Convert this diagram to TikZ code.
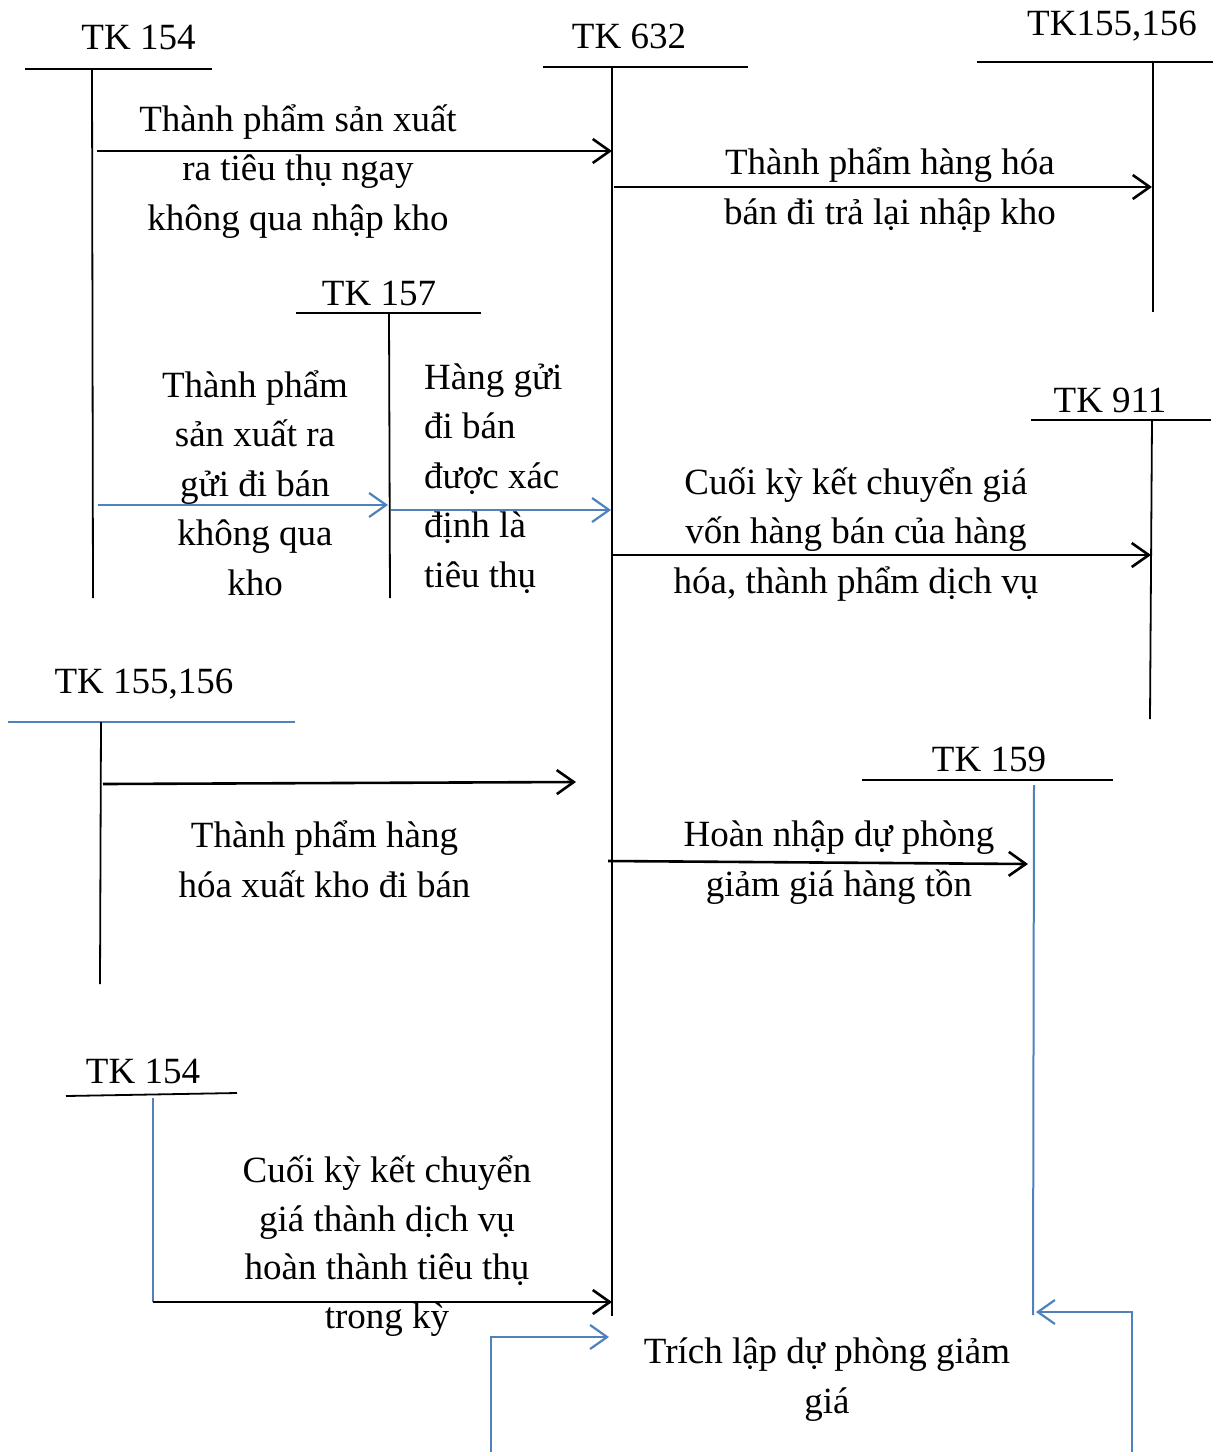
\documentclass[tikz,border=0pt]{standalone}
\usepackage{fontspec}
\setmainfont{Liberation Serif}
\usetikzlibrary{arrows.meta}
\definecolor{accblue}{RGB}{79,129,189}
\begin{document}
% Multi-line labels are placed by the baseline of their last line.
\begin{tikzpicture}[x=1pt,y=-1pt,
  lbl/.style={font=\fontsize{37}{49.5}\selectfont, inner sep=0pt, anchor=base},
  txt/.style={lbl, align=center},
  tline/.style={line width=1.8pt, black},
  bline/.style={line width=2pt, accblue},
  flow/.style={line width=2.6pt, black, -{Straight Barb[length=17pt,width=24pt]}},
  bflow/.style={line width=2.2pt, accblue, -{Straight Barb[length=17pt,width=24pt]}},
]
\useasboundingbox (0,0) rectangle (1221,1452);

% ---- T-accounts: title, horizontal bar, vertical stem ----
% TK 154 (top left)
\node[lbl] (t154a) at (138.5,49) {TK 154};
\coordinate (h154aL) at (25,69);  \coordinate (h154aR) at (212,69);
\coordinate (v154aT) at (92,69);  \coordinate (v154aB) at (93,598);
\draw[tline] (h154aL) -- (h154aR);
\draw[tline] (v154aT) -- (v154aB);

% TK 632 (central account)
\node[lbl] (t632) at (629,48) {TK 632};
\coordinate (h632L) at (543,67);  \coordinate (h632R) at (748,67);
\coordinate (v632T) at (612,67);  \coordinate (v632B) at (612,1316);
\draw[tline] (h632L) -- (h632R);
\draw[tline] (v632T) -- (v632B);

% TK155,156 (top right)
\node[lbl] (t155a) at (1112,35) {TK155,156};
\coordinate (h155aL) at (977,62); \coordinate (h155aR) at (1213,62);
\coordinate (v155aT) at (1153,62); \coordinate (v155aB) at (1153,312);
\draw[tline] (h155aL) -- (h155aR);
\draw[tline] (v155aT) -- (v155aB);

% TK 157
\node[lbl] (t157) at (379,305) {TK 157};
\coordinate (h157L) at (296,313); \coordinate (h157R) at (481,313);
\coordinate (v157T) at (389,313); \coordinate (v157B) at (390,598);
\draw[tline] (h157L) -- (h157R);
\draw[tline] (v157T) -- (v157B);

% TK 911
\node[lbl] (t911) at (1110,412) {TK 911};
\coordinate (h911L) at (1031,420); \coordinate (h911R) at (1211,420);
\coordinate (v911T) at (1152,420); \coordinate (v911B) at (1150,719);
\draw[tline] (h911L) -- (h911R);
\draw[tline] (v911T) -- (v911B);

% TK 155,156 (middle left)
\node[lbl] (t155b) at (144,693) {TK 155,156};
\coordinate (h155bL) at (8,722);  \coordinate (h155bR) at (295,722);
\coordinate (v155bT) at (101,722); \coordinate (v155bB) at (100,984);
\draw[bline] (h155bL) -- (h155bR);
\draw[tline] (v155bT) -- (v155bB);

% TK 159
\node[lbl] (t159) at (989,771) {TK 159};
\coordinate (h159L) at (862,780); \coordinate (h159R) at (1113,780);
\coordinate (v159T) at (1034,785); \coordinate (v159B) at (1033,1315);
\draw[tline] (h159L) -- (h159R);
\draw[bline] (v159T) -- (v159B);

% TK 154 (bottom left)
\node[lbl] (t154b) at (143,1083) {TK 154};
\coordinate (h154bL) at (66,1096); \coordinate (h154bR) at (237,1093);
\coordinate (v154bT) at (153,1098); \coordinate (v154bB) at (153,1302);
\draw[tline] (h154bL) -- (h154bR);
\draw[bline] (v154bT) -- (v154bB);

% ---- Postings ----
\coordinate (a1s) at (97,151);   \coordinate (a1e) at (612,151);
\draw[flow] (a1s) -- (a1e);
\node[txt] (n1) at (298,230) {Thành phẩm sản xuất\\ra tiêu thụ ngay\\không qua nhập kho};

\coordinate (a2s) at (614,187);  \coordinate (a2e) at (1152,187);
\draw[flow] (a2s) -- (a2e);
\node[txt] (n2) at (890,224) {Thành phẩm hàng hóa\\bán đi trả lại nhập kho};

\coordinate (a3s) at (98,505);   \coordinate (a3e) at (388,505);
\draw[bflow] (a3s) -- (a3e);
\node[txt] (n3) at (255,595) {Thành phẩm\\sản xuất ra\\gửi đi bán\\không qua\\kho};

\coordinate (a4s) at (391,510);  \coordinate (a4e) at (611,510);
\draw[bflow] (a4s) -- (a4e);
\node[lbl, align=left, anchor=base west] (n4) at (424,587) {Hàng gửi\\đi bán\\được xác\\định là\\tiêu thụ};

\coordinate (a5s) at (613,555);  \coordinate (a5e) at (1151,555);
\draw[flow] (a5s) -- (a5e);
\node[txt] (n5) at (856,593) {Cuối kỳ kết chuyển giá\\vốn hàng bán của hàng\\hóa, thành phẩm dịch vụ};

\coordinate (a6s) at (103,784);  \coordinate (a6e) at (576,782);
\draw[flow] (a6s) -- (a6e);
\node[txt] (n6) at (324.5,897) {Thành phẩm hàng\\hóa xuất kho đi bán};

\coordinate (a7s) at (608,861);  \coordinate (a7e) at (1028,864);
\draw[flow] (a7s) -- (a7e);
\node[txt] (n7) at (839,896) {Hoàn nhập dự phòng\\giảm giá hàng tồn};

\draw[flow] (v154bB) -- (v154bB -| v632T);
\node[txt, font=\fontsize{37}{48.5}\selectfont] (n8) at (387,1328) {Cuối kỳ kết chuyển\\giá thành dịch vụ\\hoàn thành tiêu thụ\\trong kỳ};

\coordinate (a9s) at (491,1452);  \coordinate (a9e) at (609,1337);
\draw[bflow] (a9s) |- (a9e);

\coordinate (a10s) at (1132,1452); \coordinate (a10e) at (1036,1312);
\draw[bflow] (a10s) |- (a10e);
\node[txt] (n9) at (827,1413) {Trích lập dự phòng giảm\\giá};

\end{tikzpicture}
\end{document}
